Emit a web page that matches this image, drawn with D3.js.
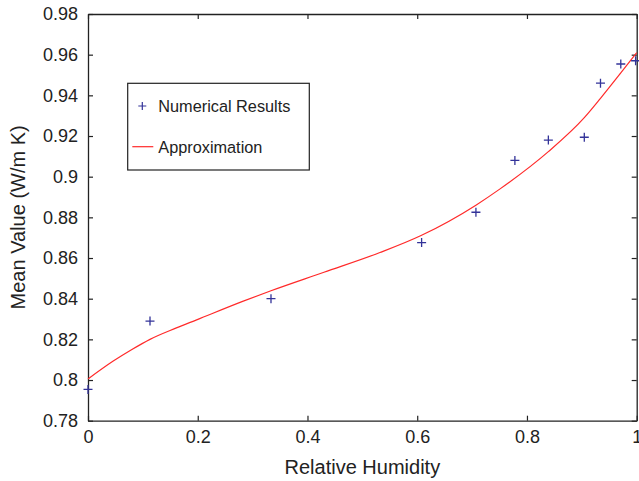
<!DOCTYPE html>
<html>
<head>
<meta charset="utf-8">
<script src="https://cdn.jsdelivr.net/npm/d3@7"></script>
<style>
  body { margin: 0; background: #fff; }
  svg text { font-family: "Liberation Sans", Arial, sans-serif; fill: #222; }
</style>
</head>
<body>
<div id="chart"></div>
<script>
// measured points
var humidity = [0, 0.113, 0.3335, 0.608, 0.707, 0.778, 0.839, 0.9045, 0.934, 0.971, 0.998];
var meanValue = [0.7954, 0.829, 0.840, 0.8676, 0.8825, 0.908, 0.918, 0.9194, 0.946, 0.9554, 0.957];

// approximation curve
var approxX = [0, 0.046, 0.08, 0.113, 0.16, 0.198, 0.283, 0.3335, 0.43, 0.532, 0.608, 0.707, 0.751, 0.839, 0.9045, 0.934, 0.971, 1];
var approxY = [0.8005, 0.8093, 0.8150, 0.8200, 0.8255, 0.8296, 0.8388, 0.8439, 0.8530, 0.8627, 0.8712, 0.8860, 0.8940, 0.9123, 0.9290, 0.9385, 0.9510, 0.9610];

var xTicks = [0, 0.2, 0.4, 0.6, 0.8, 1];
var yTicks = [0.78, 0.8, 0.82, 0.84, 0.86, 0.88, 0.9, 0.92, 0.94, 0.96, 0.98];

var legendLabels = ["Numerical Results", "Approximation"];

var width = 639, height = 481;
var margin = {top: 14, right: 2.3, bottom: 60.3, left: 88};
var plotW = width - margin.left - margin.right;
var plotH = height - margin.top - margin.bottom;

var svg = d3.select("#chart").append("svg")
  .attr("width", width)
  .attr("height", height);

var x = d3.scaleLinear().domain([0, 1]).range([0, plotW]);
var y = d3.scaleLinear().domain([0.78, 0.98]).range([plotH, 0]);

var g = svg.append("g")
  .attr("transform", "translate(" + margin.left + "," + margin.top + ")");

// axes, ticks pointing inward on all four sides
var fmt = function(d) { return String(+d.toFixed(2)); };

var bottomAxis = g.append("g")
  .attr("transform", "translate(0," + plotH + ")")
  .call(d3.axisBottom(x).tickValues(xTicks).tickSizeInner(-5).tickSizeOuter(0).tickPadding(9.5).tickFormat(fmt));
var leftAxis = g.append("g")
  .call(d3.axisLeft(y).tickValues(yTicks).tickSizeInner(-5).tickSizeOuter(0).tickPadding(10).tickFormat(fmt));
var topAxis = g.append("g")
  .call(d3.axisTop(x).tickValues(xTicks).tickSizeInner(-5).tickSizeOuter(0).tickFormat(""));
var rightAxis = g.append("g")
  .attr("transform", "translate(" + plotW + ",0)")
  .call(d3.axisRight(y).tickValues(yTicks).tickSizeInner(-5).tickSizeOuter(0).tickFormat(""));

[bottomAxis, leftAxis, topAxis, rightAxis].forEach(function(a) {
  a.selectAll("path").style("stroke", "#222").style("stroke-width", 1.3);
  a.selectAll("line").style("stroke", "#222").style("stroke-width", 1.2);
  a.selectAll("text").style("font-size", "18px").style("fill", "#222")
    .style("font-family", "'Liberation Sans', Arial, sans-serif");
});

// approximation curve
var line = d3.line()
  .x(function(d) { return x(d[0]); })
  .y(function(d) { return y(d[1]); })
  .curve(d3.curveMonotoneX);

g.append("path")
  .datum(approxX.map(function(v, i) { return [v, approxY[i]]; }))
  .attr("d", line)
  .style("fill", "none")
  .style("stroke", "#ff2a2a")
  .style("stroke-width", 1.2);

// plus markers
function plusPath(s) {
  return "M" + (-s) + ",0H" + s + "M0," + (-s) + "V" + s;
}

g.selectAll(".pt")
  .data(humidity)
  .enter().append("path")
    .attr("class", "pt")
    .attr("transform", function(d, i) { return "translate(" + x(d) + "," + y(meanValue[i]) + ")"; })
    .attr("d", plusPath(4.5))
    .style("stroke", "#333399")
    .style("stroke-width", 1.3)
    .style("fill", "none");

// legend
var legend = svg.append("g");
legend.append("rect")
  .attr("x", 127.7).attr("y", 83.3)
  .attr("width", 181.6).attr("height", 86.7)
  .style("fill", "#fff")
  .style("stroke", "#222")
  .style("stroke-width", 1.2);

legend.append("path")
  .attr("transform", "translate(142.3,106)")
  .attr("d", plusPath(4))
  .style("stroke", "#333399")
  .style("stroke-width", 1.2);
legend.append("text")
  .attr("x", 158.3).attr("y", 106)
  .attr("dy", "0.35em")
  .style("font-size", "16.3px")
  .text(legendLabels[0]);

legend.append("line")
  .attr("x1", 132.3).attr("x2", 153.3)
  .attr("y1", 146.7).attr("y2", 146.7)
  .style("stroke", "#ff2a2a")
  .style("stroke-width", 1.2);
legend.append("text")
  .attr("x", 158.3).attr("y", 147)
  .attr("dy", "0.35em")
  .style("font-size", "16.3px")
  .text(legendLabels[1]);

// axis titles
svg.append("text")
  .attr("x", margin.left + plotW / 2)
  .attr("y", 467)
  .attr("text-anchor", "middle")
  .attr("dy", "0.35em")
  .style("font-size", "20px")
  .text("Relative Humidity");

svg.append("text")
  .attr("transform", "translate(18," + (margin.top + plotH / 2) + ")rotate(-90)")
  .attr("text-anchor", "middle")
  .attr("dy", "0.35em")
  .style("font-size", "20px")
  .text("Mean Value (W/m K)");
</script>
</body>
</html>
